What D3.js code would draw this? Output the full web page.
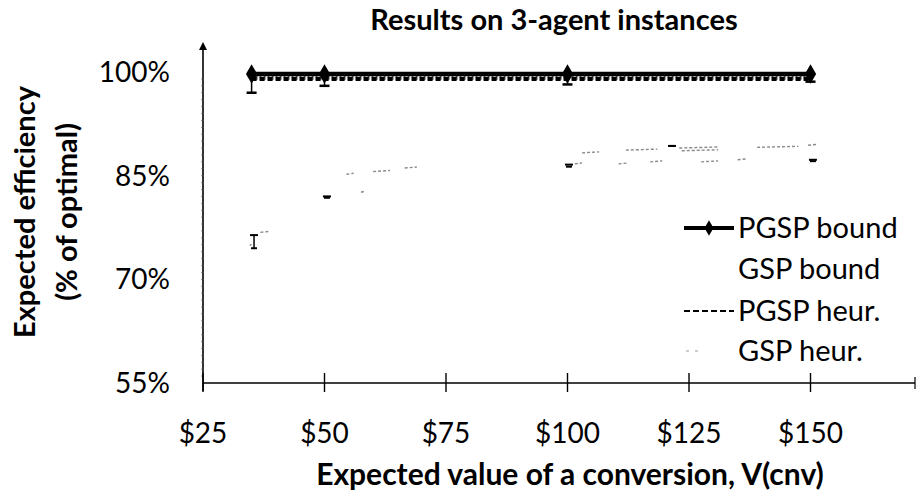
<!DOCTYPE html>
<html><head><meta charset="utf-8">
<script src="https://cdn.jsdelivr.net/npm/d3@7"></script>
<style>body{margin:0;background:#fff}svg{display:block}text{font-family:Lato,"Open Sans",sans-serif}</style>
</head><body><svg id="c" width="916" height="492"></svg>
<script>
const xVals = [35, 50, 100, 150];
const pgspBound = [99.7, 99.7, 99.7, 99.7];
const pgspBoundLow = [97.0, 98.0, 98.2, 98.6];
const gspBound = [99.3, 99.3, 99.3, 99.3];
const pgspHeur = [99.0, 99.0, 99.0, 99.0];
// GSP heuristic: black error marks [x, low, high]
const gspHeurErr = [[35.5, 74.5, 76.4], [50.5, 81.8, 82.0], [100.3, 86.3, 86.6], [150.5, 87.1, 87.3], [121.5, 89.3, 89.3]];
// GSP heuristic: faint gray fragments [x1, x2, y]
const gspHeurFrag = [[34.6,35.0,74.9],[36.8,38.8,76.8],[54.5,56,85.2],[57.5,58.3,82.6],[60,63.5,85.6],[66.5,69,86.1],
  [101.5,103,86.7],[103,106.5,88.3],[110.5,112.5,86.7],[112,118.5,88.7],[117,119.5,87.0],[123,131,89.0],
  [123.5,131,88.6],[127.5,131,87.0],[135,137,87.3],[139,147.5,89.1],[149.5,151.5,89.4]];
const xTicks = [25, 50, 75, 100, 125, 150];
const yTicks = [55, 70, 85, 100];
const legendItems = ["PGSP bound", "GSP bound", "PGSP heur.", "GSP heur."];

const svg = d3.select("#c");
const x = d3.scaleLinear().domain([25, 175]).range([203, 932]);
const y = d3.scaleLinear().domain([55, 100]).range([383, 72]);

// title
svg.append("text").attr("x", 554).attr("y", 30).attr("text-anchor", "middle")
  .attr("font-size", 29).attr("font-weight", "bold").text("Results on 3-agent instances");

// y axis with arrow
svg.append("defs").append("marker").attr("id", "arr").attr("viewBox", "0 0 10 10")
  .attr("refX", 5).attr("refY", 5).attr("markerWidth", 5).attr("markerHeight", 6).attr("orient", "auto")
  .append("path").attr("d", "M0,0L10,5L0,10z").attr("fill", "#000");
svg.append("line").attr("x1", 203).attr("x2", 203).attr("y1", y(55) + 8).attr("y2", 46)
  .attr("stroke", "#000").attr("stroke-width", 1.6).attr("marker-end", "url(#arr)");
// minor ticks on y axis
svg.append("g").selectAll("line").data(d3.range(56, 100, 1)).join("line")
  .attr("x1", 201).attr("x2", 204).attr("y1", d => y(d)).attr("y2", d => y(d)).attr("stroke", "#555").attr("stroke-width", 0.6);
svg.append("g").selectAll("text").data(yTicks).join("text")
  .attr("x", 170).attr("y", d => y(d) + 10).attr("text-anchor", "end").attr("font-size", 28).text(d => d + "%");

// x axis
svg.append("line").attr("x1", 203).attr("x2", 915).attr("y1", y(55)).attr("y2", y(55)).attr("stroke", "#000").attr("stroke-width", 1.6);
svg.append("line").attr("x1", 915).attr("x2", 915).attr("y1", y(55) - 6).attr("y2", y(55) + 6).attr("stroke", "#000").attr("stroke-width", 1.2);
svg.append("g").selectAll("line").data(xTicks).join("line")
  .attr("x1", d => x(d)).attr("x2", d => x(d)).attr("y1", y(55) - 10).attr("y2", y(55) + 9)
  .attr("stroke", "#000").attr("stroke-width", 1.4);
svg.append("g").selectAll("text").data(xTicks).join("text")
  .attr("x", d => x(d)).attr("y", 443).attr("text-anchor", "middle").attr("font-size", 28).text(d => "$" + d);

// axis titles
svg.append("text").attr("x", 570).attr("y", 485).attr("text-anchor", "middle")
  .attr("font-size", 30).attr("font-weight", "bold").text("Expected value of a conversion, V(cnv)");
const yt = svg.append("text").attr("transform", "translate(0,212) rotate(-90)").attr("text-anchor", "middle")
  .attr("font-size", 29).attr("font-weight", "bold");
yt.append("tspan").attr("x", 0).attr("y", 35).text("Expected efficiency");
yt.append("tspan").attr("x", 0).attr("y", 77).text("(% of optimal)");

// GSP heur fragments
svg.append("g").selectAll("line").data(gspHeurFrag).join("line")
  .attr("x1", d => x(d[0])).attr("x2", d => x(d[1])).attr("y1", d => y(d[2])).attr("y2", d => y(d[2]) - 1)
  .attr("stroke", "#8a8a8a").attr("stroke-width", 1.4).attr("stroke-dasharray", "3,2");
const ge = svg.append("g");
gspHeurErr.forEach(d => {
  if (d[2] - d[1] > 0.5) {
    ge.append("line").attr("x1", x(d[0])).attr("x2", x(d[0])).attr("y1", y(d[2])).attr("y2", y(d[1])).attr("stroke", "#000").attr("stroke-width", 1.5);
  }
  ge.append("line").attr("x1", x(d[0]) - 4).attr("x2", x(d[0]) + 4).attr("y1", y(d[2])).attr("y2", y(d[2])).attr("stroke", "#000").attr("stroke-width", 2);
  ge.append("line").attr("x1", x(d[0]) - 3).attr("x2", x(d[0]) + 3).attr("y1", y(d[1])).attr("y2", y(d[1])).attr("stroke", "#000").attr("stroke-width", 2);
});

// bound lines
const line = d3.line().x((d, i) => x(xVals[i])).y(d => y(d));
svg.append("path").attr("d", line(gspBound)).attr("fill", "none").attr("stroke", "#555").attr("stroke-width", 6).attr("stroke-dasharray", "2,2");
svg.append("path").attr("d", line(pgspHeur)).attr("fill", "none").attr("stroke", "#000").attr("stroke-width", 4).attr("stroke-dasharray", "5,3");
svg.append("path").attr("d", line(pgspBound)).attr("fill", "none").attr("stroke", "#000").attr("stroke-width", 4.5);
// error bars on PGSP bound
const eb = svg.append("g");
xVals.forEach((v, i) => {
  eb.append("line").attr("x1", x(v)).attr("x2", x(v)).attr("y1", y(pgspBound[i])).attr("y2", y(pgspBoundLow[i])).attr("stroke", "#000").attr("stroke-width", 1.5);
  eb.append("line").attr("x1", x(v) - 5).attr("x2", x(v) + 5).attr("y1", y(pgspBoundLow[i])).attr("y2", y(pgspBoundLow[i])).attr("stroke", "#000").attr("stroke-width", 2.5);
});
const sym = d3.symbol().type(d3.symbolDiamond).size(110);
svg.append("g").selectAll("path").data(pgspBound).join("path")
  .attr("transform", (d, i) => `translate(${x(xVals[i])},${y(d)})`).attr("d", sym).attr("fill", "#000");

// legend
const ly = [228, 269, 311, 351];
const lg = svg.append("g");
lg.append("line").attr("x1", 684).attr("x2", 734).attr("y1", ly[0]).attr("y2", ly[0]).attr("stroke", "#000").attr("stroke-width", 4);
lg.append("path").attr("transform", `translate(709,${ly[0]})`).attr("d", d3.symbol().type(d3.symbolDiamond).size(70)).attr("fill", "#000");
lg.append("line").attr("x1", 684).attr("x2", 734).attr("y1", ly[2]).attr("y2", ly[2]).attr("stroke", "#000").attr("stroke-width", 2).attr("stroke-dasharray", "6,3");
lg.append("line").attr("x1", 686).attr("x2", 700).attr("y1", ly[3]).attr("y2", ly[3]).attr("stroke", "#999").attr("stroke-width", 1).attr("stroke-dasharray", "3,6");
lg.selectAll("text").data(legendItems).join("text")
  .attr("x", 738).attr("y", (d, i) => ly[i] + 10).attr("font-size", 29).text(d => d);
</script></body></html>
